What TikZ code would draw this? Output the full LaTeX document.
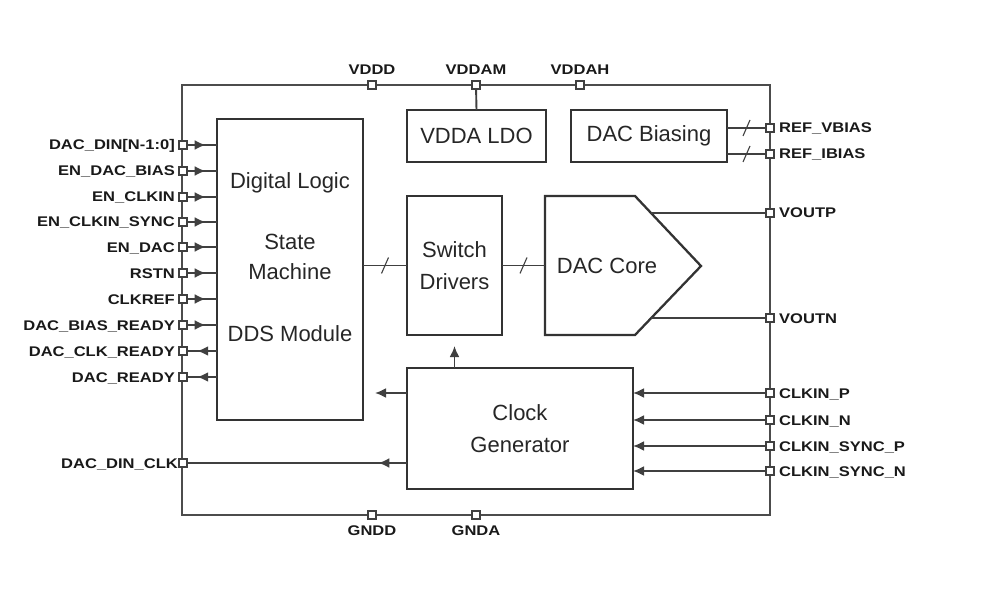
\documentclass[tikz,border=0pt]{standalone}
\usepackage{fontspec}
\setmainfont{Liberation Sans}
\newfontfamily\pinfont{Liberation Sans}[FakeStretch=1.18]
\usetikzlibrary{arrows.meta,positioning,calc,decorations.markings}
\tikzset{
  chipbox/.style={draw=black!70,line width=1.9pt,minimum width=588pt,minimum height=430pt,
                  inner sep=0pt,outer sep=0pt},
  blk/.style    ={draw=black!80,line width=2.3pt,align=center,inner sep=0pt,outer sep=0pt,
                  font=\fontsize{22}{32}\selectfont,text=black!85},
  blktxt/.style ={align=center,inner sep=0pt,font=\fontsize{22}{30}\selectfont,text=black!85},
  padsq/.style  ={draw=black!75,fill=white,line width=1.3pt,minimum size=8pt,inner sep=0pt,outer sep=0pt},
  pinlbl/.style ={font=\pinfont\bfseries\fontsize{14}{16}\selectfont,text=black!90,inner sep=0pt,
                  text height=10pt,text depth=0pt},
  wire/.style   ={draw=black!75,line width=1.9pt},
  sigarr/.style ={wire,-{Latex[length=11pt,width=10pt]}},
  midtip/.style ={wire,postaction={decorate},
                  decoration={markings,mark=at position #1 with {\arrow{Latex[length=11pt,width=10pt]}}}},
  busln/.style  ={wire,postaction={decorate},
                  decoration={markings,mark=at position .5 with {\draw[line width=1.1pt] (-3.5pt,-8pt) -- (3.5pt,8pt);}}},
}
\begin{document}
\begin{tikzpicture}[x=1pt,y=-1pt]
  \useasboundingbox (0,0) rectangle (989,615);

  % ---------- chip outline ----------
  \node[chipbox] (chip) at (476,300) {};

  % ---------- blocks ----------
  \node[blk,minimum width=146pt,minimum height=301pt] (dl) at (290,269.5) {};
  \node[blktxt] (dltxt) at (290,257) {Digital Logic\\[31pt]State\\Machine\\[32pt]DDS Module};
  \node[blk,minimum width=139pt,minimum height=52pt] (ldo) at (476.5,136) {VDDA LDO};
  \node[blk,minimum width=156pt,minimum height=52pt] (bias) at (649,136) {DAC Biasing};
  \node[blk,minimum width=95pt,minimum height=139pt] (sd) at (454.5,265.5) {Switch\\Drivers};
  \node[blk,minimum width=226pt,minimum height=121pt] (cg) at (520,428.5) {Clock\\Generator};
  \draw[draw=black!80,line width=2.3pt,line join=miter]
    (545,196) coordinate (dcnw) -- (635,196) coordinate (dcne) -- (701,266) coordinate (dctip)
    -- (635,335) coordinate (dcse) -- (545,335) coordinate (dcsw) -- cycle;
  \node[blktxt] (dc) at (607,266) {DAC Core};
  \coordinate (op) at ($(dcne)!0.243!(dctip)$);
  \coordinate (on) at ($(dctip)!0.754!(dcse)$);

  % ---------- pads ----------
  \node[padsq] (pvddd)  at (372,85) {};
  \node[padsq] (pvddam) at (476,85) {};
  \node[padsq] (pvddah) at (580,85) {};
  \node[padsq] (pgndd)  at (372,515) {};
  \node[padsq] (pgnda)  at (476,515) {};

  \node[padsq] (prefv)  at (770,128) {};
  \node[padsq] (prefi)  at (770,154) {};
  \node[padsq] (pvoutp) at (770,213) {};
  \node[padsq] (pvoutn) at (770,318) {};
  \node[padsq] (pclkp)  at (770,393) {};
  \node[padsq] (pclkn)  at (770,420) {};
  \node[padsq] (psyncp) at (770,446) {};
  \node[padsq] (psyncn) at (770,471) {};

  \node[padsq] (pdin)   at (183,145) {};
  \node[padsq] (penb)   at (183,171) {};
  \node[padsq] (penck)  at (183,197) {};
  \node[padsq] (pensy)  at (183,222) {};
  \node[padsq] (pendac) at (183,247) {};
  \node[padsq] (prstn)  at (183,273) {};
  \node[padsq] (pcref)  at (183,299) {};
  \node[padsq] (pbrdy)  at (183,325) {};
  \node[padsq] (pcrdy)  at (183,351) {};
  \node[padsq] (pdrdy)  at (183,377) {};
  \node[padsq] (pdclk)  at (183,463) {};

  % ---------- wires ----------
  \draw[wire] (pvddam) -- (ldo.north);
  \draw[busln] (bias.east |- prefv) -- (prefv);
  \draw[busln] (bias.east |- prefi) -- (prefi);
  \draw[busln] (dl.east |- sd.west) -- (sd.west);
  \draw[busln] (sd.east) -- (sd.east -| dcnw);
  \draw[wire] (op) -- (op -| pvoutp.west);
  \draw[wire] (on) -- (on -| pvoutn.west);

  \draw[sigarr] (pclkp) -- (pclkp -| cg.east);
  \draw[sigarr] (pclkn) -- (pclkn -| cg.east);
  \draw[sigarr] (psyncp) -- (psyncp -| cg.east);
  \draw[sigarr] (psyncn) -- (psyncn -| cg.east);
  \draw[sigarr,shorten >=12pt] (cg.west |- pclkp) -- (dl.east |- pclkp);
  \draw[sigarr,shorten >=11pt] (cg.north -| sd.south) -- (sd.south);
  \draw[midtip=.13] (cg.west |- pdclk) -- (pdclk);

  \draw[midtip=.62] (pdin) -- (pdin -| dl.west);
  \draw[midtip=.62] (penb) -- (penb -| dl.west);
  \draw[midtip=.62] (penck) -- (penck -| dl.west);
  \draw[midtip=.62] (pensy) -- (pensy -| dl.west);
  \draw[midtip=.62] (pendac) -- (pendac -| dl.west);
  \draw[midtip=.62] (prstn) -- (prstn -| dl.west);
  \draw[midtip=.62] (pcref) -- (pcref -| dl.west);
  \draw[midtip=.62] (pbrdy) -- (pbrdy -| dl.west);
  \draw[midtip=.66] (pcrdy -| dl.west) -- (pcrdy);
  \draw[midtip=.66] (pdrdy -| dl.west) -- (pdrdy);

  % ---------- pad labels ----------
  \node[pinlbl,above=6pt of pvddd]  {VDDD};
  \node[pinlbl,above=6pt of pvddam] {VDDAM};
  \node[pinlbl,above=6pt of pvddah] {VDDAH};
  \node[pinlbl,below=6pt of pgndd]  {GNDD};
  \node[pinlbl,below=6pt of pgnda]  {GNDA};

  \node[pinlbl,right=5pt of prefv]  {REF\_VBIAS};
  \node[pinlbl,right=5pt of prefi]  {REF\_IBIAS};
  \node[pinlbl,right=5pt of pvoutp] {VOUTP};
  \node[pinlbl,right=5pt of pvoutn] {VOUTN};
  \node[pinlbl,right=5pt of pclkp]  {CLKIN\_P};
  \node[pinlbl,right=5pt of pclkn]  {CLKIN\_N};
  \node[pinlbl,right=5pt of psyncp] {CLKIN\_SYNC\_P};
  \node[pinlbl,right=5pt of psyncn] {CLKIN\_SYNC\_N};

  \node[pinlbl,left=4pt of pdin]   {DAC\_DIN[N-1:0]};
  \node[pinlbl,left=4pt of penb]   {EN\_DAC\_BIAS};
  \node[pinlbl,left=4pt of penck]  {EN\_CLKIN};
  \node[pinlbl,left=4pt of pensy]  {EN\_CLKIN\_SYNC};
  \node[pinlbl,left=4pt of pendac] {EN\_DAC};
  \node[pinlbl,left=4pt of prstn]  {RSTN};
  \node[pinlbl,left=4pt of pcref]  {CLKREF};
  \node[pinlbl,left=4pt of pbrdy]  {DAC\_BIAS\_READY};
  \node[pinlbl,left=4pt of pcrdy]  {DAC\_CLK\_READY};
  \node[pinlbl,left=4pt of pdrdy]  {DAC\_READY};
  \node[pinlbl,left=1pt of pdclk]  {DAC\_DIN\_CLK};

\end{tikzpicture}
\end{document}
